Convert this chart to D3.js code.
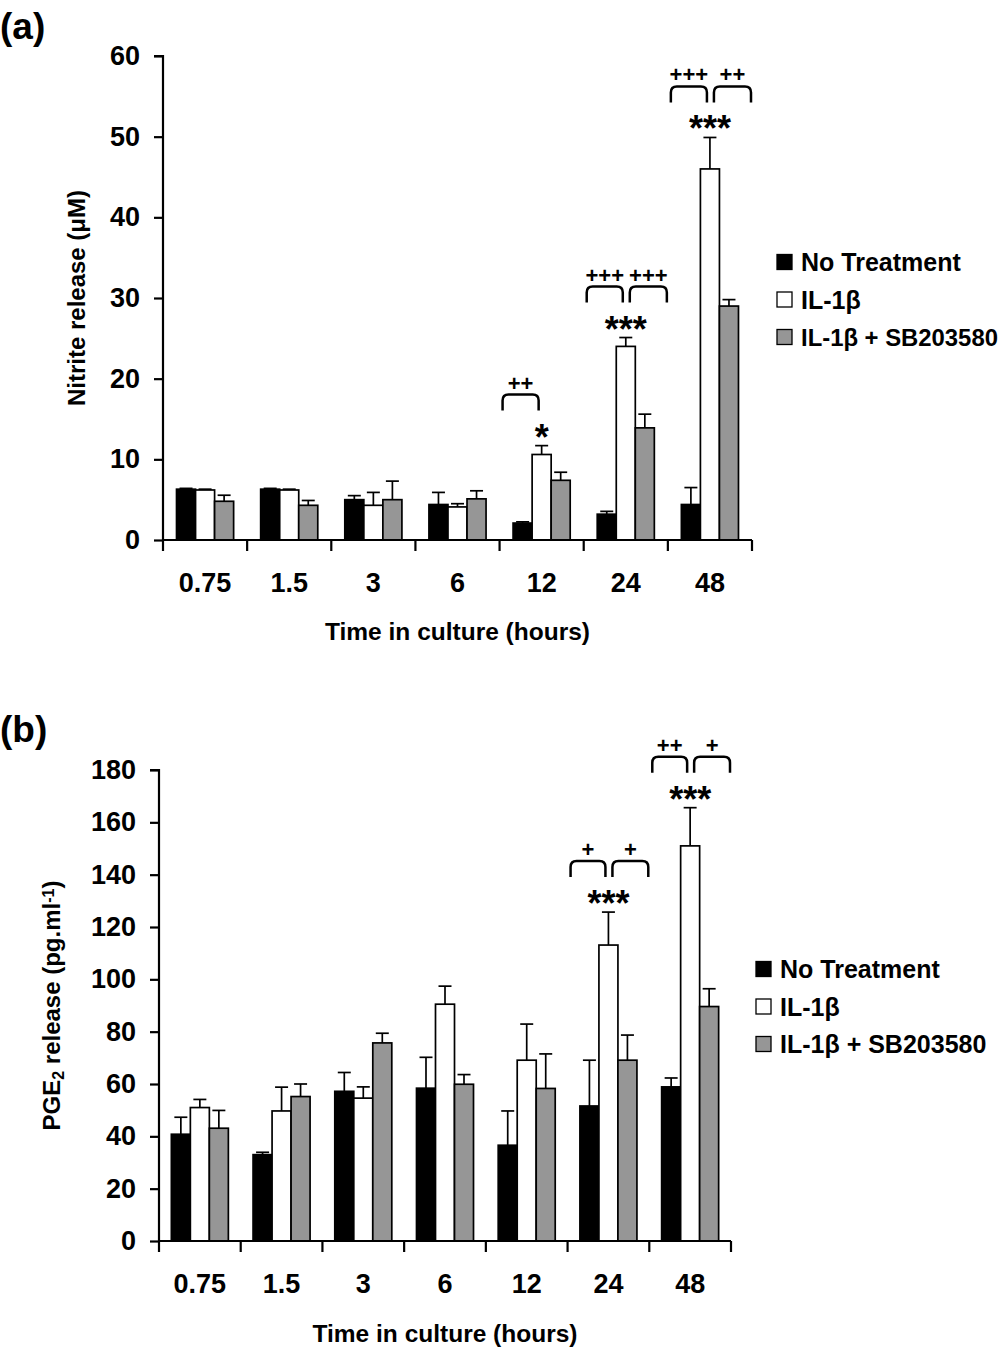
<!DOCTYPE html>
<html>
<head>
<meta charset="utf-8">
<script src="https://cdn.jsdelivr.net/npm/d3@7/dist/d3.min.js"></script>
<style>
  body { margin: 0; background: #fff; }
  svg { display: block; }
  text { font-family: "Liberation Sans", Arial, sans-serif; font-weight: bold; fill: #000; }
</style>
</head>
<body>
<svg id="chart" width="1004" height="1351"></svg>
<script>
// ---------- DATA ----------
const categories = ["0.75", "1.5", "3", "6", "12", "24", "48"];
const seriesNames = ["No Treatment", "IL-1\u03B2", "IL-1\u03B2 + SB203580"];
const seriesColors = ["#000000", "#ffffff", "#969696"];

// Panel (a): nitrite release (µM)
const nitriteNoTreatment    = [6.3, 6.3, 5.0, 4.4, 2.1, 3.2, 4.4];
const nitriteNoTreatmentErr = [0.1, 0.1, 0.5, 1.5, 0.15, 0.35, 2.1];
const nitriteIL1b           = [6.2, 6.2, 4.3, 4.1, 10.6, 24.0, 46.0];
const nitriteIL1bErr        = [0.1, 0.1, 1.6, 0.4, 1.1, 1.1, 3.9];
const nitriteSB             = [4.8, 4.3, 5.0, 5.1, 7.4, 13.9, 29.0];
const nitriteSBErr          = [0.75, 0.6, 2.3, 1.0, 1.0, 1.7, 0.8];
const nitriteTicks = [0, 10, 20, 30, 40, 50, 60];

// Panel (b): PGE2 release (pg.ml-1)
const pgeNoTreatment    = [40.8, 33.0, 57.2, 58.4, 36.6, 51.6, 58.9];
const pgeNoTreatmentErr = [6.5, 0.9, 7.2, 11.8, 13.1, 17.5, 3.4];
const pgeIL1b           = [51.0, 49.7, 54.6, 90.5, 69.1, 113.1, 151.0];
const pgeIL1bErr        = [3.1, 9.1, 4.3, 6.9, 13.8, 12.6, 14.6];
const pgeSB             = [43.1, 55.2, 75.7, 59.9, 58.3, 69.1, 89.6];
const pgeSBErr          = [6.8, 4.8, 3.7, 3.7, 13.2, 9.6, 6.8];
const pgeTicks = [0, 20, 40, 60, 80, 100, 120, 140, 160, 180];

// Significance annotations
const nitriteAnnot = [
  { cat: "12", stars: "*",   left: "++",  right: null },
  { cat: "24", stars: "***", left: "+++", right: "+++" },
  { cat: "48", stars: "***", left: "+++", right: "++" }
];
const pgeAnnot = [
  { cat: "24", stars: "***", left: "+",  right: "+" },
  { cat: "48", stars: "***", left: "++", right: "+" }
];

// ---------- DRAW ----------
const svg = d3.select("#chart");
const FONT = "Liberation Sans, Arial, sans-serif";
const WIDTH = 1004;

function panel(cfg) {
  const g = svg.append("g");
  const x = d3.scaleBand().domain(categories).range([cfg.x0, cfg.x1]).padding(0);
  const sub = d3.scaleBand().domain(d3.range(3)).range([0, x.bandwidth()])
    .paddingInner(0).paddingOuter(cfg.outerPad);
  const y = d3.scaleLinear().domain([0, cfg.ymax]).range([cfg.y0, cfg.ytop]);

  const rows = [];
  categories.forEach((c, i) => {
    cfg.values.forEach((vals, s) => {
      rows.push({ cat: c, s: s, v: vals[i], e: cfg.errors[s][i] });
    });
  });

  // error bars (upper only)
  const eb = g.append("g").attr("stroke", "#000").attr("stroke-width", 1.7);
  rows.forEach(d => {
    const cx = x(d.cat) + sub(d.s) + sub.bandwidth() / 2;
    eb.append("line").attr("x1", cx).attr("x2", cx).attr("y1", y(d.v)).attr("y2", y(d.v + d.e));
    eb.append("line").attr("x1", cx - 6.5).attr("x2", cx + 6.5).attr("y1", y(d.v + d.e)).attr("y2", y(d.v + d.e));
  });

  // bars
  g.append("g").selectAll("rect").data(rows).join("rect")
    .attr("x", d => x(d.cat) + sub(d.s))
    .attr("width", sub.bandwidth())
    .attr("y", d => y(d.v))
    .attr("height", d => y(0) - y(d.v))
    .attr("fill", d => seriesColors[d.s])
    .attr("stroke", "#000")
    .attr("stroke-width", 1.7);

  // y axis
  const yAxis = d3.axisLeft(y).tickValues(cfg.ticks).tickSize(9).tickPadding(14);
  const ya = g.append("g").attr("transform", `translate(${cfg.x0},0)`).call(yAxis);
  ya.select(".domain").attr("stroke-width", 2.2).attr("d", `M-9,${cfg.ytop}H0V${cfg.y0}`);
  ya.selectAll(".tick line").attr("stroke-width", 2.2);
  ya.selectAll(".tick text").style("font-size", "27px").style("font-family", FONT).style("font-weight", "bold").attr("fill", "#000");

  // x axis: labels at centres, ticks at band boundaries
  const xAxis = d3.axisBottom(x).tickSize(0).tickPadding(cfg.xLabelPad);
  const xa = g.append("g").attr("transform", `translate(0,${cfg.y0})`).call(xAxis);
  xa.select(".domain").attr("stroke-width", 2.2).attr("d", `M${cfg.x0},0H${cfg.x1}`);
  xa.selectAll(".tick text").style("font-size", "27px").style("font-family", FONT).style("font-weight", "bold").attr("fill", "#000");
  const bounds = categories.map(c => x(c)).concat([x(categories[categories.length - 1]) + x.bandwidth()]);
  xa.selectAll(".bnd").data(bounds).join("line").attr("class", "bnd")
    .attr("x1", d => d).attr("x2", d => d).attr("y1", 0).attr("y2", 11)
    .attr("stroke", "#000").attr("stroke-width", 2.2);

  // axis titles
  g.append("text").attr("x", (cfg.x0 + cfg.x1) / 2).attr("y", cfg.xTitleY)
    .attr("text-anchor", "middle").style("font-size", "24.5px").text("Time in culture (hours)");
  const yt = g.append("text")
    .attr("transform", `translate(${cfg.yTitleX},${(cfg.y0 + cfg.ytop) / 2 + cfg.yTitleShift}) rotate(-90)`)
    .attr("text-anchor", "middle").style("font-size", "24px");
  cfg.yTitle(yt);

  // panel label
  g.append("text").attr("x", 0).attr("y", cfg.labelY).style("font-size", "37px").text(cfg.label);

  // legend
  const lg = g.append("g");
  seriesNames.forEach((n, i) => {
    const ly = cfg.legY + i * 37.5;
    lg.append("rect").attr("x", cfg.legX).attr("y", ly - 7.5).attr("width", 15).attr("height", 15)
      .attr("fill", seriesColors[i]).attr("stroke", "#000").attr("stroke-width", 1.3);
    const tx = cfg.legX + 24;
    const t = lg.append("text").attr("x", tx).attr("y", ly + 9).style("font-size", "25px").text(n);
    const maxW = WIDTH - 6 - tx;
    const w = t.node().getComputedTextLength();
    if (w > maxW) t.style("font-size", (25 * maxW / w).toFixed(2) + "px");
  });

  // significance annotations
  cfg.annot.forEach(a => {
    const i = categories.indexOf(a.cat);
    const wc = x(a.cat) + sub(1) + sub.bandwidth() / 2;
    const errTop = y(cfg.values[1][i] + cfg.errors[1][i]);
    const starC = errTop - 16;
    g.append("text").attr("x", wc).attr("y", starC + 20).attr("text-anchor", "middle")
      .style("font-size", "36px").text(a.stars);
    const top = starC - 35;
    const drawBracket = (xl, xr, txt) => {
      g.append("path")
        .attr("d", `M${xl},${top + 16}V${top + 6}Q${xl},${top} ${xl + 6},${top}H${xr - 6}Q${xr},${top} ${xr},${top + 6}V${top + 16}`)
        .attr("fill", "none").attr("stroke", "#000").attr("stroke-width", 2.5);
      g.append("text").attr("x", (xl + xr) / 2).attr("y", top - 4).attr("text-anchor", "middle")
        .style("font-size", "22px").text(txt);
    };
    if (a.left) drawBracket(x(a.cat) + 3, wc - 3, a.left);
    if (a.right) drawBracket(wc + 4, x(a.cat) + x.bandwidth() - 1, a.right);
  });
}

panel({
  x0: 163, x1: 752, y0: 540, ytop: 56, ymax: 60, outerPad: 0.71,
  values: [nitriteNoTreatment, nitriteIL1b, nitriteSB],
  errors: [nitriteNoTreatmentErr, nitriteIL1bErr, nitriteSBErr],
  ticks: nitriteTicks, xLabelPad: 33, xTitleY: 640,
  yTitleX: 85, yTitleShift: 0,
  yTitle: t => t.text("Nitrite release (\u03BCM)"),
  label: "(a)", labelY: 39,
  legX: 777, legY: 262,
  annot: nitriteAnnot
});

panel({
  x0: 159, x1: 731, y0: 1241, ytop: 770, ymax: 180, outerPad: 0.65,
  values: [pgeNoTreatment, pgeIL1b, pgeSB],
  errors: [pgeNoTreatmentErr, pgeIL1bErr, pgeSBErr],
  ticks: pgeTicks, xLabelPad: 33, xTitleY: 1342,
  yTitleX: 60, yTitleShift: 0,
  yTitle: t => {
    t.append("tspan").text("PGE");
    t.append("tspan").attr("baseline-shift", "-25%").style("font-size", "16px").text("2");
    t.append("tspan").text(" release (pg.ml");
    t.append("tspan").attr("baseline-shift", "40%").style("font-size", "16px").text("-1");
    t.append("tspan").text(")");
  },
  label: "(b)", labelY: 742,
  legX: 756, legY: 969,
  annot: pgeAnnot
});
</script>
</body>
</html>
